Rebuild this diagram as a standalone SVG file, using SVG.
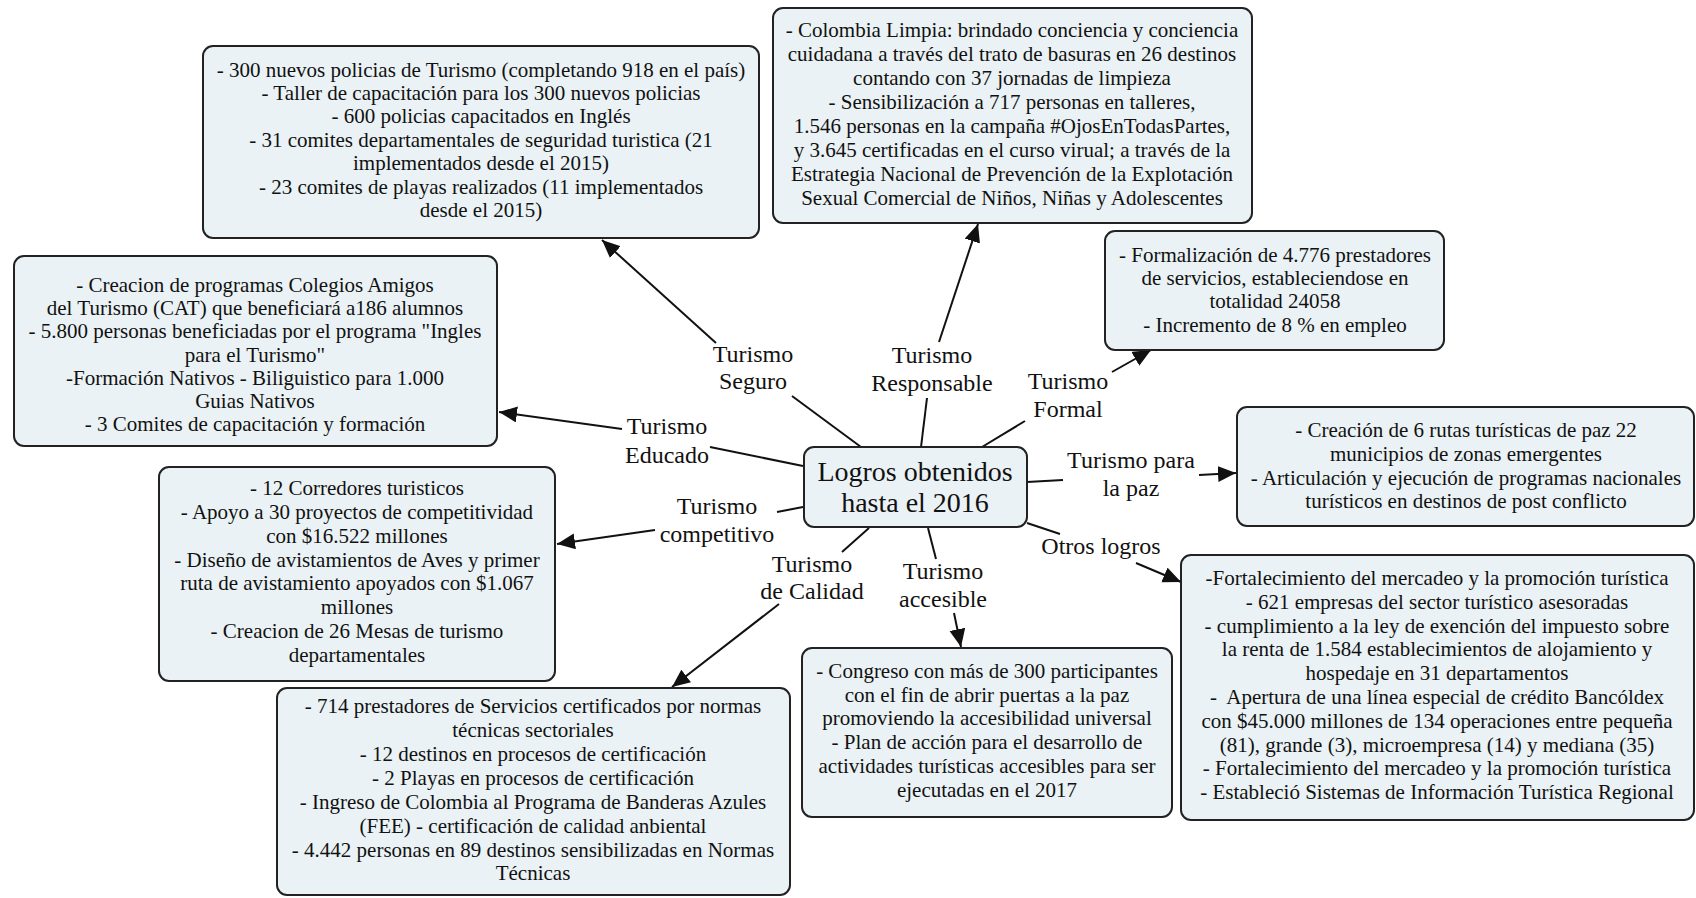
<svg xmlns="http://www.w3.org/2000/svg" width="1696" height="898" viewBox="0 0 1696 898">
<style>
.box{fill:#eaf2f5;stroke:#222;stroke-width:2}
.t{font-family:"Liberation Serif","Times New Roman",serif;font-size:21px;fill:#111;text-anchor:middle}
.lbl{font-family:"Liberation Serif","Times New Roman",serif;font-size:24px;fill:#111;text-anchor:middle}
.ctr{font-family:"Liberation Serif","Times New Roman",serif;font-size:28px;fill:#111;text-anchor:middle}
.c{stroke:#111;stroke-width:2;fill:none}
</style>
<defs>
<marker id="arr" markerUnits="userSpaceOnUse" markerWidth="20" markerHeight="18" refX="18" refY="8" orient="auto">
<path d="M0,0 L18,8 L0,16 z" fill="#111"/>
</marker>
</defs>
<rect width="1696" height="898" fill="#fff"/>

<g id="connectors">
<line class="c" x1="861" y1="447" x2="792" y2="396"/>
<line class="c" x1="716" y1="343" x2="602" y2="240" marker-end="url(#arr)"/>
<line class="c" x1="921" y1="447" x2="927" y2="398"/>
<line class="c" x1="939" y1="342" x2="978" y2="224" marker-end="url(#arr)"/>
<line class="c" x1="982" y1="447" x2="1025" y2="421"/>
<line class="c" x1="1112" y1="372" x2="1151" y2="350" marker-end="url(#arr)"/>
<line class="c" x1="803" y1="466" x2="710" y2="447"/>
<line class="c" x1="622" y1="429" x2="499" y2="412" marker-end="url(#arr)"/>
<line class="c" x1="1027" y1="482" x2="1063" y2="480"/>
<line class="c" x1="1199" y1="475" x2="1236" y2="473" marker-end="url(#arr)"/>
<line class="c" x1="803" y1="507" x2="777" y2="512"/>
<line class="c" x1="655" y1="530" x2="557" y2="544" marker-end="url(#arr)"/>
<line class="c" x1="869" y1="528" x2="842" y2="552"/>
<line class="c" x1="779" y1="604" x2="672" y2="687" marker-end="url(#arr)"/>
<line class="c" x1="928" y1="528" x2="936" y2="559"/>
<line class="c" x1="954" y1="613" x2="961" y2="647" marker-end="url(#arr)"/>
<line class="c" x1="1027" y1="523" x2="1060" y2="534"/>
<line class="c" x1="1136" y1="563" x2="1181" y2="582" marker-end="url(#arr)"/>
</g>

<g id="center">
<rect class="box" x="804" y="447" width="223" height="80" rx="10"/>
<text class="ctr" x="915" y="481">Logros obtenidos</text>
<text class="ctr" x="915" y="512">hasta el 2016</text>
</g>

<g id="labels">
<text class="lbl" x="753" y="362">Turismo</text><text class="lbl" x="753" y="389">Seguro</text>
<text class="lbl" x="932" y="363">Turismo</text><text class="lbl" x="932" y="391">Responsable</text>
<text class="lbl" x="1068" y="389">Turismo</text><text class="lbl" x="1068" y="417">Formal</text>
<text class="lbl" x="667" y="434">Turismo</text><text class="lbl" x="667" y="463">Educado</text>
<text class="lbl" x="1131" y="468">Turismo para</text><text class="lbl" x="1131" y="496">la paz</text>
<text class="lbl" x="717" y="514">Turismo</text><text class="lbl" x="717" y="542">competitivo</text>
<text class="lbl" x="812" y="572">Turismo</text><text class="lbl" x="812" y="599">de Calidad</text>
<text class="lbl" x="943" y="579">Turismo</text><text class="lbl" x="943" y="607">accesible</text>
<text class="lbl" x="1101" y="554">Otros logros</text>
</g>

<g id="seguro">
<rect class="box" x="203" y="46" width="556" height="192" rx="10"/>
<text class="t" x="481" y="77">- 300 nuevos policias de Turismo (completando 918 en el país)</text>
<text class="t" x="481" y="100">- Taller de capacitación para los 300 nuevos policias</text>
<text class="t" x="481" y="123">- 600 policias capacitados en Inglés</text>
<text class="t" x="481" y="147">- 31 comites departamentales de seguridad turistica (21</text>
<text class="t" x="481" y="170">implementados desde el 2015)</text>
<text class="t" x="481" y="194">- 23 comites de playas realizados (11 implementados</text>
<text class="t" x="481" y="217">desde el 2015)</text>
</g>

<g id="responsable">
<rect class="box" x="773" y="8" width="479" height="215" rx="10"/>
<text class="t" x="1012" y="37">- Colombia Limpia: brindado conciencia y conciencia</text>
<text class="t" x="1012" y="61">cuidadana a través del trato de basuras en 26 destinos</text>
<text class="t" x="1012" y="85">contando con 37 jornadas de limpieza</text>
<text class="t" x="1012" y="109">- Sensibilización a 717 personas en talleres,</text>
<text class="t" x="1012" y="133">1.546 personas en la campaña #OjosEnTodasPartes,</text>
<text class="t" x="1012" y="157">y 3.645 certificadas en el curso virual; a través de la</text>
<text class="t" x="1012" y="181">Estrategia Nacional de Prevención de la Explotación</text>
<text class="t" x="1012" y="205">Sexual Comercial de Niños, Niñas y Adolescentes</text>
</g>

<g id="formal">
<rect class="box" x="1105" y="231" width="339" height="119" rx="10"/>
<text class="t" x="1275" y="262">- Formalización de 4.776 prestadores</text>
<text class="t" x="1275" y="285">de servicios, estableciendose en</text>
<text class="t" x="1275" y="308">totalidad 24058</text>
<text class="t" x="1275" y="332">- Incremento de 8 % en empleo</text>
</g>

<g id="paz">
<rect class="box" x="1237" y="407" width="457" height="119" rx="10"/>
<text class="t" x="1466" y="437">- Creación de 6 rutas turísticas de paz 22</text>
<text class="t" x="1466" y="461">municipios de zonas emergentes</text>
<text class="t" x="1466" y="485">- Articulación y ejecución de programas nacionales</text>
<text class="t" x="1466" y="508">turísticos en destinos de post conflicto</text>
</g>

<g id="otros">
<rect class="box" x="1181" y="555" width="513" height="265" rx="10"/>
<text class="t" x="1437" y="585">-Fortalecimiento del mercadeo y la promoción turística</text>
<text class="t" x="1437" y="609">- 621 empresas del sector turístico asesoradas</text>
<text class="t" x="1437" y="633">- cumplimiento a la ley de exención del impuesto sobre</text>
<text class="t" x="1437" y="656">la renta de 1.584 establecimientos de alojamiento y</text>
<text class="t" x="1437" y="680">hospedaje en 31 departamentos</text>
<text class="t" x="1437" y="704">-&#160; Apertura de una línea especial de crédito Bancóldex</text>
<text class="t" x="1437" y="728">con $45.000 millones de 134 operaciones entre pequeña</text>
<text class="t" x="1437" y="752">(81), grande (3), microempresa (14) y mediana (35)</text>
<text class="t" x="1437" y="775">- Fortalecimiento del mercadeo y la promoción turística</text>
<text class="t" x="1437" y="799">- Estableció Sistemas de Información Turística Regional</text>
</g>

<g id="accesible">
<rect class="box" x="802" y="648" width="370" height="169" rx="10"/>
<text class="t" x="987" y="678">- Congreso con más de 300 participantes</text>
<text class="t" x="987" y="702">con el fin de abrir puertas a la paz</text>
<text class="t" x="987" y="725">promoviendo la accesibilidad universal</text>
<text class="t" x="987" y="749">- Plan de acción para el desarrollo de</text>
<text class="t" x="987" y="773">actividades turísticas accesibles para ser</text>
<text class="t" x="987" y="797">ejecutadas en el 2017</text>
</g>

<g id="calidad">
<rect class="box" x="277" y="688" width="513" height="207" rx="10"/>
<text class="t" x="533" y="713">- 714 prestadores de Servicios certificados por normas</text>
<text class="t" x="533" y="737">técnicas sectoriales</text>
<text class="t" x="533" y="761">- 12 destinos en procesos de certificación</text>
<text class="t" x="533" y="785">- 2 Playas en procesos de certificación</text>
<text class="t" x="533" y="809">- Ingreso de Colombia al Programa de Banderas Azules</text>
<text class="t" x="533" y="833">(FEE) - certificación de calidad anbiental</text>
<text class="t" x="533" y="857">- 4.442 personas en 89 destinos sensibilizadas en Normas</text>
<text class="t" x="533" y="880">Técnicas</text>
</g>

<g id="competitivo">
<rect class="box" x="159" y="467" width="396" height="214" rx="10"/>
<text class="t" x="357" y="495">- 12 Corredores turisticos</text>
<text class="t" x="357" y="519">- Apoyo a 30 proyectos de competitividad</text>
<text class="t" x="357" y="543">con $16.522 millones</text>
<text class="t" x="357" y="567">- Diseño de avistamientos de Aves y primer</text>
<text class="t" x="357" y="590">ruta de avistamiento apoyados con $1.067</text>
<text class="t" x="357" y="614">millones</text>
<text class="t" x="357" y="638">- Creacion de 26 Mesas de turismo</text>
<text class="t" x="357" y="662">departamentales</text>
</g>

<g id="educado">
<rect class="box" x="14" y="256" width="483" height="190" rx="10"/>
<text class="t" x="255" y="292">- Creacion de programas Colegios Amigos</text>
<text class="t" x="255" y="315">del Turismo (CAT) que beneficiará a186 alumnos</text>
<text class="t" x="255" y="338">- 5.800 personas beneficiadas por el programa "Ingles</text>
<text class="t" x="255" y="362">para el Turismo"</text>
<text class="t" x="255" y="385">-Formación Nativos - Biliguistico para 1.000</text>
<text class="t" x="255" y="408">Guias Nativos</text>
<text class="t" x="255" y="431">- 3 Comites de capacitación y formación</text>
</g>
</svg>
